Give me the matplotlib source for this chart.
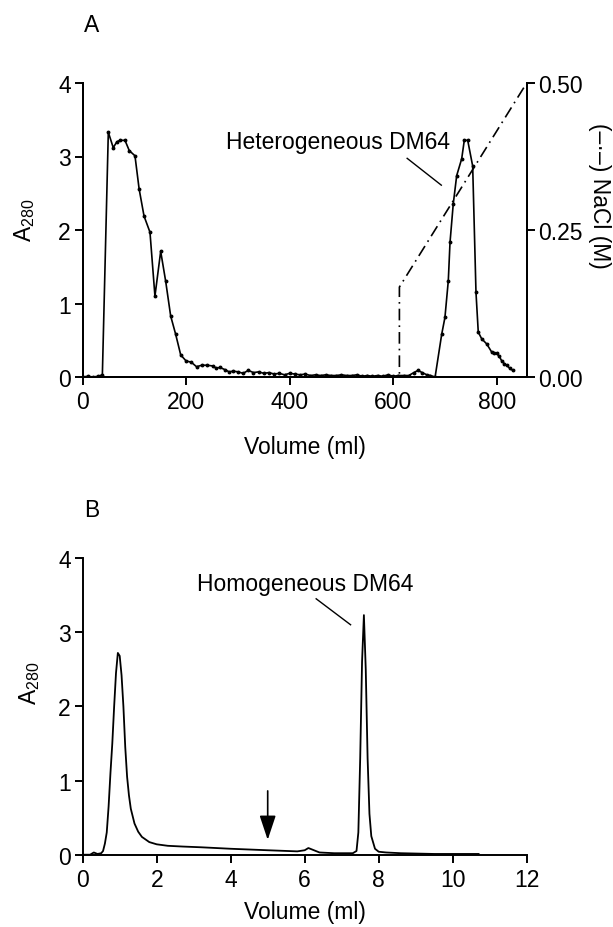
import matplotlib
matplotlib.use("Agg")
import matplotlib.pyplot as plt
from matplotlib.ticker import FormatStrFormatter

plt.rcParams['font.family'] = ['Liberation Sans', 'DejaVu Sans']
plt.rcParams['mathtext.fontset'] = 'custom'
plt.rcParams['mathtext.rm'] = 'Liberation Sans'
plt.rcParams['mathtext.it'] = 'Liberation Sans'
plt.rcParams['font.size'] = 16.5

# Panel A: ion exchange run, A280 and NaCl gradient
vol_a = [0, 10, 20, 30, 38, 49.5, 59, 66, 72, 81.7, 90, 101, 109, 118.5, 130,
         139.6, 150.7, 160.4, 170, 179.7, 189.4, 199.6, 210, 220, 230, 240, 252,
         258, 265, 275, 283, 291, 300, 310, 320, 330, 340, 350, 360, 370, 380,
         390, 400, 410, 420, 430, 440, 450, 460, 470, 480, 490, 500, 510, 520,
         530, 540, 550, 560, 570, 580, 590, 600, 610, 620, 630, 640, 648, 656,
         665, 672, 681, 693.7, 700, 706.5, 709.8, 716, 722.7, 732.4, 737.4, 744,
         753.6, 760, 764.4, 771, 780.7, 790.3, 795, 800, 805, 809.7, 815, 819.3,
         825, 831]
a280_a = [0.0, 0.01, 0.0, 0.01, 0.03, 3.33, 3.12, 3.2, 3.22, 3.22, 3.08, 3.01,
          2.56, 2.19, 1.97, 1.10, 1.71, 1.30, 0.83, 0.58, 0.30, 0.22, 0.20, 0.14,
          0.16, 0.16, 0.15, 0.12, 0.13, 0.10, 0.07, 0.08, 0.07, 0.05, 0.09, 0.06,
          0.07, 0.05, 0.06, 0.04, 0.05, 0.03, 0.05, 0.04, 0.03, 0.04, 0.02, 0.03,
          0.02, 0.03, 0.02, 0.02, 0.03, 0.02, 0.02, 0.03, 0.01, 0.02, 0.01, 0.02,
          0.01, 0.03, 0.01, 0.02, 0.02, 0.02, 0.06, 0.09, 0.06, 0.03, 0.02, 0.0,
          0.58, 0.81, 1.31, 1.83, 2.35, 2.74, 2.97, 3.22, 3.22, 2.87, 1.15, 0.61,
          0.52, 0.45, 0.34, 0.33, 0.32, 0.28, 0.22, 0.18, 0.16, 0.12, 0.09]
vol_nacl = [0, 612, 612, 858]
nacl = [0.0, 0.0, 0.153, 0.5]

# Panel B: gel filtration run
vol_b = [0, 0.2, 0.3, 0.4, 0.5, 0.55, 0.6, 0.65, 0.7, 0.75, 0.8, 0.85, 0.9,
         0.95, 1.0, 1.05, 1.1, 1.15, 1.2, 1.25, 1.3, 1.4, 1.5, 1.6, 1.8, 2.0,
         2.3, 2.7, 3.2, 4.0, 5.0, 5.8, 6.0, 6.1, 6.2, 6.4, 6.8, 7.2, 7.3, 7.4,
         7.45, 7.5, 7.55, 7.6, 7.65, 7.7, 7.75, 7.8, 7.9, 8.0, 8.2, 8.6, 9.5,
         10.7]
a280_b = [0.0, 0.0, 0.03, 0.01, 0.02, 0.05, 0.15, 0.30, 0.65, 1.1, 1.5, 2.0,
          2.45, 2.72, 2.68, 2.42, 2.0, 1.45, 1.05, 0.8, 0.62, 0.42, 0.31, 0.24,
          0.17, 0.14, 0.12, 0.11, 0.10, 0.08, 0.06, 0.045, 0.06, 0.09, 0.07,
          0.03, 0.02, 0.02, 0.02, 0.05, 0.3, 1.3, 2.6, 3.23, 2.5, 1.3, 0.55,
          0.25, 0.08, 0.04, 0.03, 0.02, 0.01, 0.01]

fig = plt.figure(figsize=(6.13, 9.28), dpi=100)
W, H = 613, 928


def px_axes(l, t, r, b):
    return fig.add_axes([l / W, 1 - b / H, (r - l) / W, (b - t) / H])


def style(ax):
    for s in ['left', 'bottom', 'right', 'top']:
        ax.spines[s].set_linewidth(1.4)
    ax.tick_params(direction='out', length=5.5, width=1.4, pad=3)
    ax.tick_params(axis='x', pad=4)


# ---- panel A ----
ax1 = px_axes(82.7, 84, 526.7, 378)
ax1.plot(vol_a, a280_a, color='black', lw=1.2, marker='o', ms=1.8)
ax1.set_xlim(0, 858)
ax1.set_ylim(0, 4)
ax1.set_xticks([0, 200, 400, 600, 800])
ax1.set_yticks([0, 1, 2, 3, 4])
ax1.spines['top'].set_visible(False)
style(ax1)
ax1.set_xlabel('Volume (ml)')
ax1.xaxis.set_label_coords(0.5, -0.238)
ax1.xaxis.label.set(va='center')
ax1.set_ylabel(r'A$_{\mathregular{280}}$')
ax1.yaxis.label.set(va='center', ha='center')
ax1.yaxis.set_label_coords(-0.132, 0.537)

ax2 = ax1.twinx()
ax2.plot(vol_nacl, nacl, color='black', lw=1.2, linestyle=(0, (7, 3, 1, 3)))
ax2.set_ylim(0, 0.5)
ax2.set_yticks([0, 0.25, 0.5])
ax2.yaxis.set_major_formatter(FormatStrFormatter('%.2f'))
ax2.spines['top'].set_visible(False)
style(ax2)
fig.text(600 / W, 1 - 196 / H, '(–·–) NaCl (M)', rotation=270,
         ha='center', va='center')

ax1.plot([627, 693], [2.975, 2.61], color='black', lw=1)
ax1.text(493, 3.21, 'Heterogeneous DM64', ha='center', va='center')
fig.text(92 / W, 1 - 25 / H, 'A', ha='center', va='center')

# ---- panel B ----
ax3 = px_axes(82.7, 559, 526.7, 855.7)
ax3.plot(vol_b, a280_b, color='black', lw=1.3)
ax3.set_xlim(0, 12)
ax3.set_ylim(0, 4)
ax3.set_xticks([0, 2, 4, 6, 8, 10, 12])
ax3.set_yticks([0, 1, 2, 3, 4])
ax3.spines['top'].set_visible(False)
ax3.spines['right'].set_visible(False)
style(ax3)
ax3.set_xlabel('Volume (ml)')
ax3.xaxis.set_label_coords(0.5, -0.19)
ax3.xaxis.label.set(va='center')
ax3.set_ylabel(r'A$_{\mathregular{280}}$')
ax3.yaxis.label.set(va='center', ha='center')
ax3.yaxis.set_label_coords(-0.12, 0.58)

ax3.plot([6.31, 7.24], [3.45, 3.10], color='black', lw=1)
ax3.text(6.0, 3.65, 'Homogeneous DM64', ha='center', va='center')
ax3.annotate('', xy=(5, 0.2), xytext=(5, 0.86),
             arrowprops=dict(arrowstyle='-|>,head_length=1.5,head_width=0.5',
                             mutation_scale=10, lw=1.2, color='black',
                             shrinkA=0, shrinkB=0))
fig.text(92 / W, 1 - 511 / H, 'B', ha='center', va='center')

fig.savefig('out.png', dpi=100)
